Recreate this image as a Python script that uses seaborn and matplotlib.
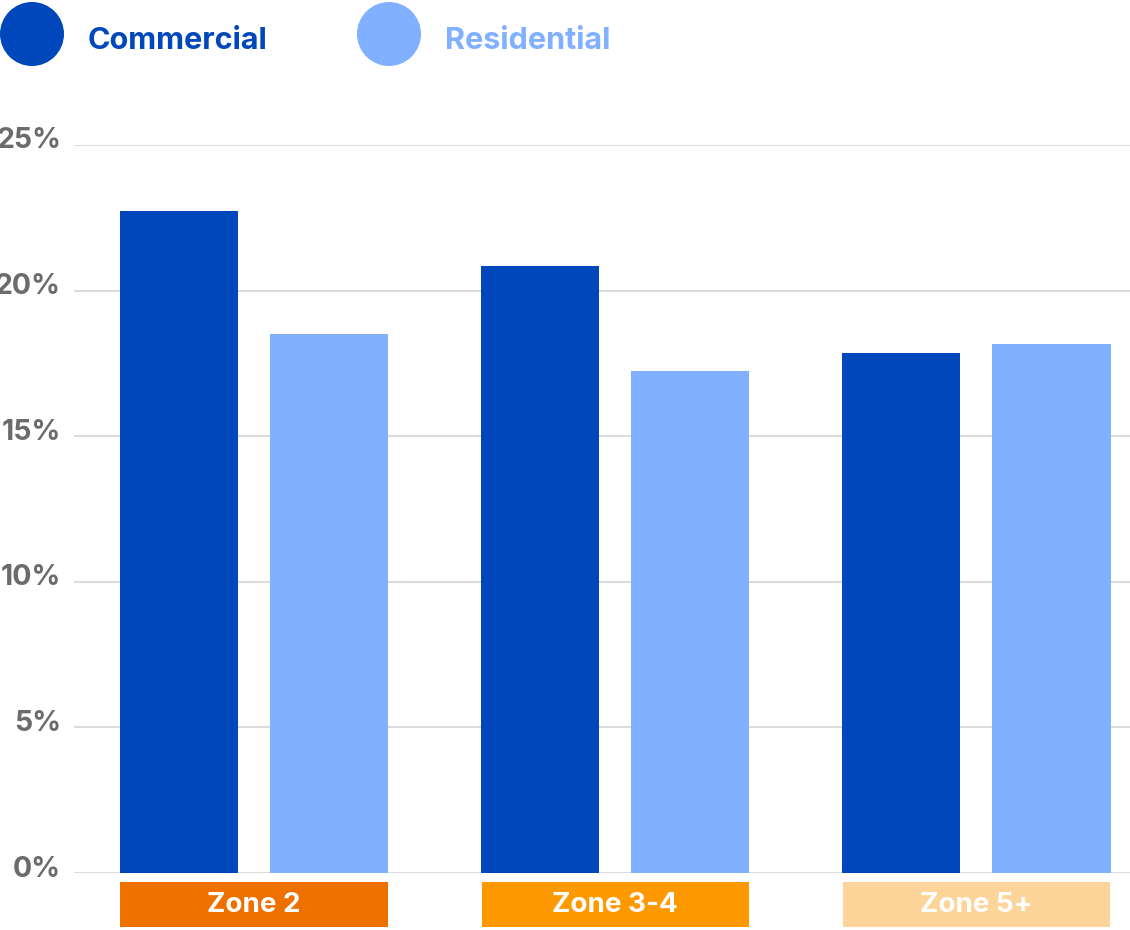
import matplotlib
matplotlib.use("Agg")
import matplotlib.pyplot as plt
import matplotlib.patches as mpatches
import matplotlib.transforms as mtransforms
import seaborn as sns
import pandas as pd

zones = ["Zone 2", "Zone 3-4", "Zone 5+"]
series = ["Commercial", "Residential"]
commercial = [22.73, 20.84, 17.86]
residential = [18.51, 17.24, 18.17]
yticks = [0, 5, 10, 15, 20, 25]
ytick_labels = ["0%", "5%", "10%", "15%", "20%", "25%"]

series_colors = ["#0047BB", "#80B0FF"]
zone_colors = ["#EE7100", "#FF9900", "#FDD59A"]

df = pd.DataFrame({
    "zone": zones * 2,
    "type": [series[0]] * 3 + [series[1]] * 3,
    "value": commercial + residential,
})

sns.set_theme(style="white")
plt.rcParams["font.family"] = ["Inter", "DejaVu Sans"]

W, H = 1130, 930
fig = plt.figure(figsize=(W / 100, H / 100), dpi=100)
ax = fig.add_axes([74 / W, (H - 873) / H, 1 - 74 / W, (873 - 145) / H])

sns.barplot(data=df, x="zone", y="value", hue="type", order=zones, hue_order=series,
            palette=series_colors, width=0.831, gap=0.213, saturation=1,
            legend=False, ax=ax, errorbar=None, linewidth=0)

ax.set_xlim(-0.498, 2.425)
ax.set_ylim(0, 25)
ax.set_yticks(yticks)
ax.set_yticklabels([])
ax.set_xticks([])
ax.set_xlabel("")
ax.set_ylabel("")
for s in ax.spines.values():
    s.set_visible(False)
ax.tick_params(length=0)
for t in yticks:
    ax.axhline(t, color="#DCDCDC", lw=1.5, zorder=0)

# y tick labels
for t, lab in zip(yticks, ytick_labels):
    tr = mtransforms.offset_copy(ax.get_yaxis_transform(), fig=fig, x=-13, y=4, units="dots")
    ax.text(0, t, lab, transform=tr, ha="right", va="center", fontsize=20.5,
            fontweight="bold", color="#6B6B6B")

# zone label boxes under axis
bt = mtransforms.blended_transform_factory(ax.transData, fig.transFigure)
for i, (z, c) in enumerate(zip(zones, zone_colors)):
    rect = mpatches.Rectangle((i - 0.37, (H - 927) / H), 0.74, 45 / H, transform=bt,
                              facecolor=c, edgecolor="none", clip_on=False)
    ax.add_patch(rect)
    ax.text(i, (H - 905) / H, z, transform=bt, ha="center", va="center",
            fontsize=20, fontweight="bold", color="white")

# legend
lx = [32, 389]
tx = [88, 445]
for i, s in enumerate(series):
    fig.patches.append(mpatches.Ellipse((lx[i] / W, (H - 34) / H), 64 / W, 64 / H,
                                        transform=fig.transFigure, facecolor=series_colors[i],
                                        edgecolor="none"))
    fig.text(tx[i] / W, (H - 49) / H, s, ha="left", va="baseline", fontsize=22,
             fontweight="bold", color=series_colors[i])

fig.savefig("out.png", dpi=100)
